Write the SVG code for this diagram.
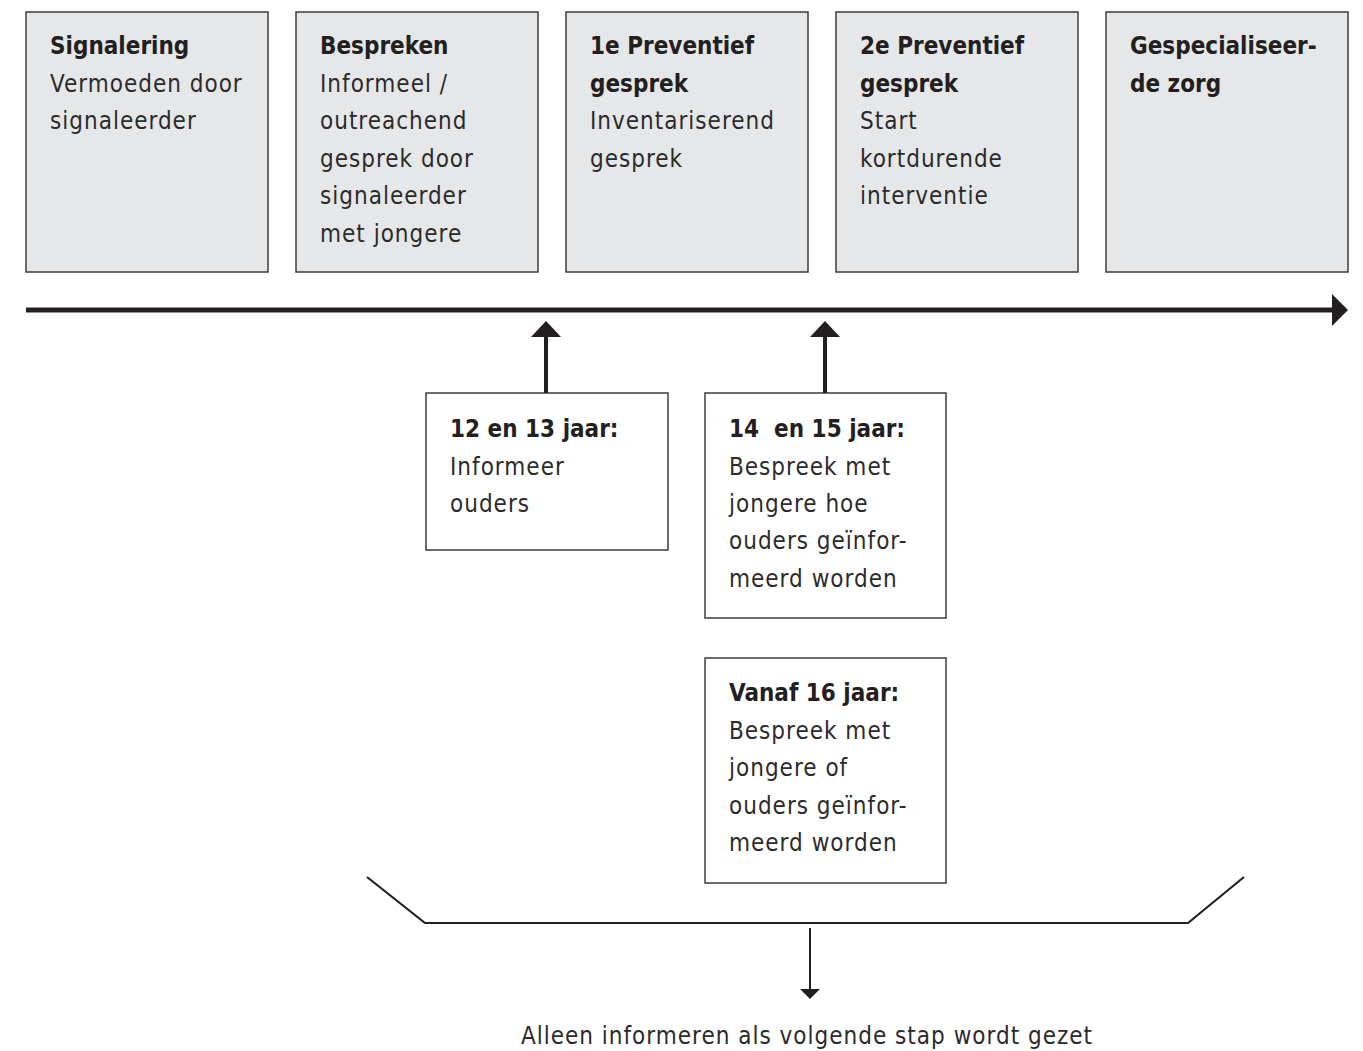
<svg xmlns="http://www.w3.org/2000/svg" width="1363" height="1051" viewBox="0 0 1363 1051">
<style>
.step{fill:#e6e7e8;stroke:#3c3c3c;stroke-width:1.5}
.note{fill:#ffffff;stroke:#3c3c3c;stroke-width:1.5}
text{font-family:"DejaVu Sans Condensed","DejaVu Sans",sans-serif;font-size:24px;fill:#2b2b2b;letter-spacing:1px}
.b{font-weight:bold;fill:#231f20;letter-spacing:0px}
.ln{stroke:#231f20;fill:none}
</style>
<defs>
<marker id="big" markerUnits="userSpaceOnUse" markerWidth="20" markerHeight="34" refX="2" refY="17" orient="auto"><path d="M0,1 L16,17 L0,33 Z" fill="#231f20"/></marker>
<marker id="up" markerUnits="userSpaceOnUse" markerWidth="18" markerHeight="32" refX="2" refY="16" orient="auto"><path d="M0,1 L16,16 L0,31 Z" fill="#231f20"/></marker>
<marker id="sm" markerUnits="userSpaceOnUse" markerWidth="12" markerHeight="22" refX="0" refY="11" orient="auto"><path d="M0,1 L10,11 L0,21 Z" fill="#231f20"/></marker>
</defs>
<g id="step1"><rect class="step" x="26" y="12" width="242" height="260"/>
<text x="50" y="54" class="b">Signalering</text><text x="50" y="92">Vermoeden door</text><text x="50" y="129">signaleerder</text></g>
<g id="step2"><rect class="step" x="296" y="12" width="242" height="260"/>
<text x="320" y="54" class="b">Bespreken</text><text x="320" y="92">Informeel /</text><text x="320" y="129">outreachend</text><text x="320" y="167">gesprek door</text><text x="320" y="204">signaleerder</text><text x="320" y="242">met jongere</text></g>
<g id="step3"><rect class="step" x="566" y="12" width="242" height="260"/>
<text x="590" y="54" class="b">1e Preventief</text><text x="590" y="92" class="b">gesprek</text><text x="590" y="129">Inventariserend</text><text x="590" y="167">gesprek</text></g>
<g id="step4"><rect class="step" x="836" y="12" width="242" height="260"/>
<text x="860" y="54" class="b">2e Preventief</text><text x="860" y="92" class="b">gesprek</text><text x="860" y="129">Start</text><text x="860" y="167">kortdurende</text><text x="860" y="204">interventie</text></g>
<g id="step5"><rect class="step" x="1106" y="12" width="242" height="260"/>
<text x="1130" y="54" class="b">Gespecialiseer-</text><text x="1130" y="92" class="b">de zorg</text></g>
<g id="note1"><rect class="note" x="426" y="393" width="242" height="157"/>
<text x="450" y="437" class="b">12 en 13 jaar:</text><text x="450" y="475">Informeer</text><text x="450" y="512">ouders</text></g>
<g id="note2"><rect class="note" x="705" y="393" width="241" height="225"/>
<text x="729" y="437" class="b" xml:space="preserve">14  en 15 jaar:</text><text x="729" y="475">Bespreek met</text><text x="729" y="512">jongere hoe</text><text x="729" y="549">ouders geïnfor-</text><text x="729" y="587">meerd worden</text></g>
<g id="note3"><rect class="note" x="705" y="658" width="241" height="225"/>
<text x="729" y="701" class="b">Vanaf 16 jaar:</text><text x="729" y="739">Bespreek met</text><text x="729" y="776">jongere of</text><text x="729" y="814">ouders geïnfor-</text><text x="729" y="851">meerd worden</text></g>
<g id="result"><text x="807" y="1044" text-anchor="middle">Alleen informeren als volgende stap wordt gezet</text></g>
<g id="connectors">
<line class="ln" x1="26" y1="310" x2="1334" y2="310" stroke-width="5" marker-end="url(#big)"/>
<line class="ln" x1="546" y1="393" x2="546" y2="335" stroke-width="4" marker-end="url(#up)"/>
<line class="ln" x1="825" y1="393" x2="825" y2="335" stroke-width="4" marker-end="url(#up)"/>
<polyline class="ln" points="367,877 425,923 1188,923 1244,877" stroke-width="2.2"/>
<line class="ln" x1="810" y1="928" x2="810" y2="989" stroke-width="2" marker-end="url(#sm)"/>
</g>
</svg>
